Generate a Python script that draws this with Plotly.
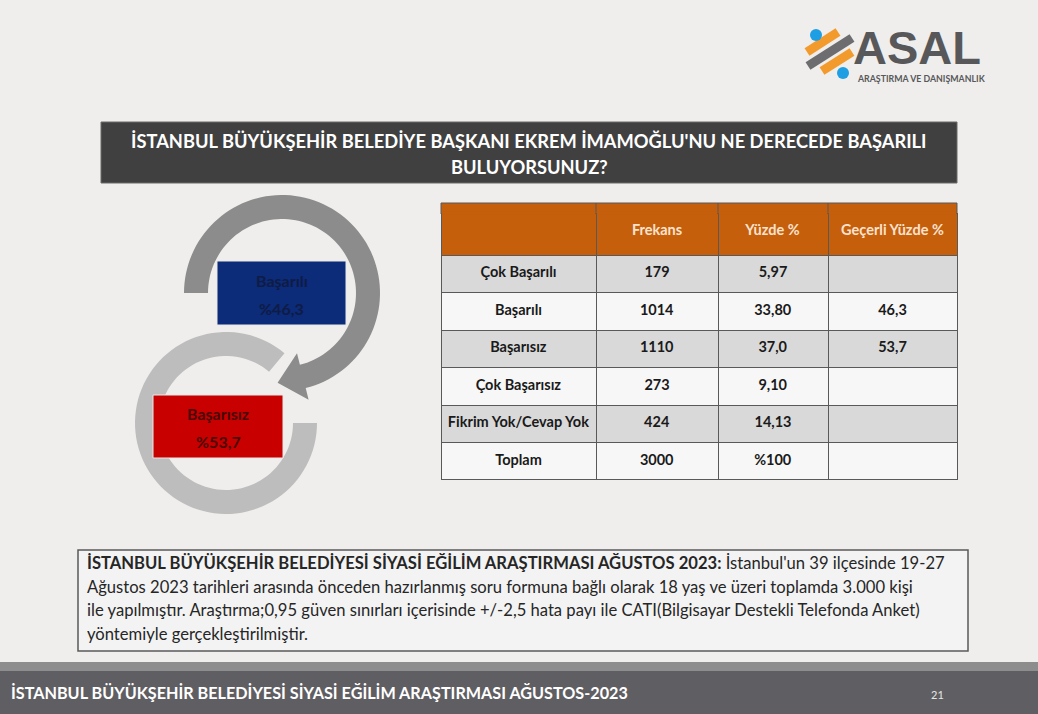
import numpy as np
import plotly.graph_objects as go

# ---------------- data ----------------
headers = ["", "Frekans", "Yüzde %", "Geçerli Yüzde %"]
categories = ["Çok Başarılı", "Başarılı", "Başarısız", "Çok Başarısız", "Fikrim Yok/Cevap Yok", "Toplam"]
frekans = [179, 1014, 1110, 273, 424, 3000]
yuzde = ["5,97", "33,80", "37,0", "9,10", "14,13", "%100"]
gecerli = ["", "46,3", "53,7", "", "", ""]
summary_labels = ["Başarılı", "Başarısız"]
summary_values = ["46,3", "53,7"]

title_lines = ["İSTANBUL BÜYÜKŞEHİR BELEDİYE BAŞKANI EKREM İMAMOĞLU'NU NE DERECEDE BAŞARILI",
               "BULUYORSUNUZ?"]
note_lines = [
    "<b>İSTANBUL BÜYÜKŞEHİR BELEDİYESİ SİYASİ EĞİLİM ARAŞTIRMASI AĞUSTOS 2023:</b> İstanbul'un 39 ilçesinde 19-27",
    "Ağustos 2023 tarihleri arasında önceden hazırlanmış soru formuna bağlı olarak 18 yaş ve üzeri toplamda 3.000 kişi",
    "ile yapılmıştır. Araştırma;0,95 güven sınırları içerisinde +/-2,5 hata payı ile CATI(Bilgisayar Destekli Telefonda Anket)",
    "yöntemiyle gerçekleştirilmiştir.",
]
footer_text = "İSTANBUL BÜYÜKŞEHİR BELEDİYESİ SİYASİ EĞİLİM ARAŞTIRMASI AĞUSTOS-2023"
page_no = "21"

W, H = 1038, 714
FONT = "Lato"
NB = "\u00a0"

fig = go.Figure()

# ---------------- helpers ----------------
def pt(cx, cy, r, a):
    t = np.radians(a)
    return cx + r * np.cos(t), cy - r * np.sin(t)

def arc_points(cx, cy, r, a0, a1, n=90):
    return [pt(cx, cy, r, a) for a in np.linspace(a0, a1, n)]

def path_from(points):
    return "M " + " L ".join(f"{x:.2f},{y:.2f}" for x, y in points) + " Z"

def nowrap(s):
    return f"<b>{str(s).replace(' ', NB)}</b>"

shapes = []
annotations = []

# background
shapes.append(dict(type="rect", x0=0, x1=W, y0=0, y1=H, fillcolor="#efeeec", line_width=0, layer="below"))

# title box
shapes.append(dict(type="rect", x0=101, x1=957, y0=122, y1=183, fillcolor="#404040",
                   line=dict(color="#6a6a6a", width=1), layer="below"))
for i, t in enumerate(title_lines):
    annotations.append(dict(x=529, y=141 + i * 26, text=f"<b>{t}</b>", showarrow=False,
                            font=dict(family=FONT, size=18.3, color="white"),
                            xanchor="center", yanchor="middle"))

# ---- circular arrows ----
c2x, c2y, r2i, r2o = 226, 423, 67, 91
pts = arc_points(c2x, c2y, r2o, 50, 360) + arc_points(c2x, c2y, r2i, 360, 50)
shapes.append(dict(type="path", path=path_from(pts), fillcolor="#bdbdbd", line_width=0, layer="below"))

c1x, c1y, r1i, r1o = 282, 293, 74, 98
aend = -76
rm = (r1i + r1o) / 2
bx, by = pt(c1x, c1y, rm, aend)
tdir = (np.sin(np.radians(aend)), np.cos(np.radians(aend)))
tip = (bx + 26 * tdir[0], by + 26 * tdir[1])
pts = (arc_points(c1x, c1y, r1o, 180, aend) + [pt(c1x, c1y, rm + 24, aend), tip,
       pt(c1x, c1y, rm - 24, aend)] + arc_points(c1x, c1y, r1i, aend, 180))
shapes.append(dict(type="path", path=path_from(pts), fillcolor="#8c8c8c", line_width=0, layer="below"))

# summary boxes
box_specs = [dict(x0=217, x1=346, y0=261, y1=325, fill="#0c2b78", txt="#0f1c45"),
             dict(x0=153, x1=283, y0=395, y1=458, fill="#c80000", txt="#4a0606")]
for spec, lab, val in zip(box_specs, summary_labels, summary_values):
    shapes.append(dict(type="rect", x0=spec["x0"], x1=spec["x1"], y0=spec["y0"], y1=spec["y1"],
                       fillcolor=spec["fill"], line=dict(color="#e8e8e8", width=1), layer="below"))
    cx = (spec["x0"] + spec["x1"]) / 2
    cy = (spec["y0"] + spec["y1"]) / 2
    annotations.append(dict(x=cx, y=cy - 13, text=f"<b>{lab}</b>", showarrow=False,
                            font=dict(family=FONT, size=16, color=spec["txt"])))
    annotations.append(dict(x=cx, y=cy + 15, text=f"<b>%{val}</b>", showarrow=False,
                            font=dict(family=FONT, size=16, color=spec["txt"])))

# note box
shapes.append(dict(type="rect", x0=78, x1=968, y0=550, y1=651, fillcolor="#f3f3f3",
                   line=dict(color="#595959", width=1.5), layer="below"))
for i, t in enumerate(note_lines):
    annotations.append(dict(x=85, y=563 + i * 23.7, text=t, showarrow=False, xanchor="left",
                            yanchor="middle", font=dict(family=FONT, size=16.6, color="#262626")))

# footer
shapes.append(dict(type="rect", x0=0, x1=W, y0=662, y1=671, fillcolor="#8d8d8d", line_width=0, layer="below"))
shapes.append(dict(type="rect", x0=0, x1=W, y0=671, y1=H, fillcolor="#5f5e62", line_width=0, layer="below"))
annotations.append(dict(x=9, y=692, text=f"<b>{footer_text}</b>", showarrow=False, xanchor="left",
                        font=dict(family=FONT, size=16.2, color="white")))
annotations.append(dict(x=937, y=694, text=page_no, showarrow=False,
                        font=dict(family=FONT, size=11, color="#e6e6e6")))

# logo
shapes.append(dict(type="line", x0=807, y0=52, x1=838, y1=32, line=dict(color="#f39a2c", width=9), layer="below"))
shapes.append(dict(type="line", x0=808, y0=66, x1=852, y1=38, line=dict(color="#6d6d6f", width=9), layer="below"))
shapes.append(dict(type="line", x0=822, y0=71, x1=852, y1=52, line=dict(color="#f39a2c", width=9), layer="below"))
shapes.append(dict(type="circle", x0=810, x1=822, y0=29, y1=41, fillcolor="#1e9fe3", line_width=0, layer="below"))
shapes.append(dict(type="circle", x0=837, x1=849, y0=67, y1=79, fillcolor="#1e9fe3", line_width=0, layer="below"))
annotations.append(dict(x=851, y=47, text="<b>ASAL</b>", showarrow=False, xanchor="left",
                        font=dict(family="Liberation Sans", size=47, color="#58585a")))
annotations.append(dict(x=855, y=78, text="<b>ARAŞTIRMA VE DANIŞMANLIK</b>", showarrow=False, xanchor="left",
                        font=dict(family=FONT, size=8.8, color="#58585a")))

# ---- table ----
HEAD = "#c55f0c"
LINE = "#595959"
col_w = [155, 122, 110, 129]
tx0, tx1, ty0, ext, ty1 = 441, 957, 203, 10, 480
edges = np.cumsum([tx0] + col_w)
# top strip of the header (the table's header text sits near the top of its cell)
shapes.append(dict(type="rect", x0=tx0, x1=tx1, y0=ty0, y1=ty0 + ext + 1, fillcolor=HEAD,
                   line=dict(color=LINE, width=1), layer="below"))
for xb in edges[1:-1]:
    shapes.append(dict(type="line", x0=xb, x1=xb, y0=ty0, y1=ty0 + ext,
                       line=dict(color=LINE, width=1), layer="below"))
# hide the joint between strip and table header
for a, b in zip(edges[:-1], edges[1:]):
    shapes.append(dict(type="rect", x0=a + 0.8, x1=b - 0.8, y0=ty0 + ext - 1.5, y1=ty0 + ext + 1.5,
                       fillcolor=HEAD, line_width=0, layer="above"))
# bottom border of the table
shapes.append(dict(type="line", x0=tx0, x1=tx1, y0=ty1 - 0.5, y1=ty1 - 0.5,
                   line=dict(color=LINE, width=1.2), layer="above"))

row_fill = ["#d9d9d9" if i % 2 == 0 else "#f7f7f7" for i in range(len(categories))]
fig.add_trace(go.Table(
    domain=dict(x=[tx0 / W, tx1 / W], y=[1 - ty1 / H, 1 - (ty0 + ext) / H]),
    columnwidth=col_w,
    header=dict(values=[nowrap(h) for h in headers], fill_color=HEAD,
                line=dict(color=LINE, width=1), align="center", height=42,
                font=dict(family=FONT, size=14.5, color="#fbe3cf")),
    cells=dict(values=[[nowrap(c) for c in categories],
                       [nowrap(v) for v in frekans],
                       [nowrap(v) for v in yuzde],
                       [nowrap(v) for v in gecerli]],
               fill_color=[row_fill] * 4, line=dict(color=LINE, width=1),
               align="center", height=37.5,
               font=dict(family=FONT, size=14.5, color="#1a1a1a")),
))

fig.add_trace(go.Scatter(x=[0, W], y=[0, H], mode="markers", marker=dict(opacity=0),
                         hoverinfo="skip", showlegend=False))

fig.update_layout(
    width=W, height=H, margin=dict(l=0, r=0, t=0, b=0),
    paper_bgcolor="#efeeec", plot_bgcolor="#efeeec",
    xaxis=dict(range=[0, W], visible=False, fixedrange=True),
    yaxis=dict(range=[H, 0], visible=False, fixedrange=True),
    shapes=shapes, annotations=annotations, showlegend=False,
)

fig.write_html("out.html", config={"displayModeBar": False},
               post_script="document.body.style.margin='0px';")
